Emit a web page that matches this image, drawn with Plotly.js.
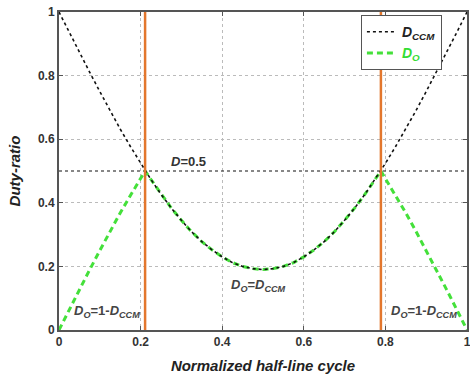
<!DOCTYPE html>
<html>
<head>
<meta charset="utf-8">
<script src="https://cdn.plot.ly/plotly-3.0.1.min.js"></script>
<style>html,body{margin:0;padding:0;background:#fff;}#chart{width:470px;height:390px;}</style>
</head>
<body>
<div id="chart"></div>
<script>
// Normalized half-line cycle positions
var cycle = [0,0.025,0.05,0.075,0.1,0.125,0.15,0.175,0.2,0.211,0.225,0.25,0.275,0.3,0.325,0.35,0.375,0.4,0.425,0.45,0.475,0.5,
             0.525,0.55,0.575,0.6,0.625,0.65,0.675,0.7,0.725,0.75,0.775,0.789,0.8,0.825,0.85,0.875,0.9,0.925,0.95,0.975,1];
// D_CCM (black dotted)
var dCCM = [1.000,0.936,0.873,0.811,0.750,0.690,0.632,0.577,0.524,0.500,0.474,0.427,0.384,0.345,0.309,0.278,0.252,0.230,0.212,0.200,0.193,0.190,
            0.193,0.200,0.212,0.230,0.252,0.278,0.309,0.345,0.384,0.427,0.474,0.500,0.524,0.577,0.632,0.690,0.750,0.811,0.873,0.936,1.000];
// D_O (green dashed)
var dO = [0.000,0.064,0.127,0.189,0.250,0.310,0.368,0.423,0.476,0.500,0.474,0.427,0.384,0.345,0.309,0.278,0.252,0.230,0.212,0.200,0.193,0.190,
          0.193,0.200,0.212,0.230,0.252,0.278,0.309,0.345,0.384,0.427,0.474,0.500,0.476,0.423,0.368,0.310,0.250,0.189,0.127,0.064,0.000];
// Boundary markers (orange vertical lines) and D=0.5 reference
var boundaries = [0.211, 0.789];
var halfLevel = 0.5;
var xRange = [0, 1];
var yRange = [0, 1];
var tickVals = [0, 0.2, 0.4, 0.6, 0.8, 1];
var tickText = ['0', '0.2', '0.4', '0.6', '0.8', '1'];

var traces = [];
traces.push({x: xRange, y: [halfLevel, halfLevel], mode: 'lines', showlegend: false, hoverinfo: 'skip',
  line: {color: '#111', width: 1.2, dash: 'dot'}});
traces.push({x: cycle, y: dO, mode: 'lines', name: '<span style="color:#33dd33"><b><i>D<sub>O</sub></i></b></span>',
  legendrank: 2, line: {color: '#44e03a', width: 3, dash: '6px,4px'}});
traces.push({x: cycle, y: dCCM, mode: 'lines', name: '<b><i>D<sub>CCM</sub></i></b>',
  legendrank: 1, line: {color: '#111', width: 1.6, dash: 'dot'}});
boundaries.forEach(function(b){
  traces.push({x: [b, b], y: yRange, mode: 'lines', showlegend: false, hoverinfo: 'skip',
    line: {color: '#e3772d', width: 2.5}});
});

var axisCommon = {
  showgrid: true, gridcolor: '#bbbbbb', griddash: 'dot', gridwidth: 1,
  showline: true, mirror: 'allticks', linecolor: '#555', linewidth: 2,
  ticks: 'inside', ticklen: 4, tickcolor: '#555', tickwidth: 1,
  zeroline: false, tickvals: tickVals, ticktext: tickText, ticklabeloverflow: 'allow',
  tickfont: {family: 'Liberation Sans, Arial, sans-serif', size: 12, color: '#333', weight: 'bold'}
};

var layout = {
  width: 470, height: 390,
  margin: {l: 59, r: 3, t: 12, b: 60},
  paper_bgcolor: '#fff', plot_bgcolor: '#fff',
  showlegend: true,
  legend: {x: 0.74, y: 0.99, xanchor: 'left', yanchor: 'top', bgcolor: '#fff', bordercolor: '#555', borderwidth: 1,
    font: {family: 'Liberation Sans, Arial, sans-serif', size: 14, color: '#222'}, tracegroupgap: 0},
  xaxis: Object.assign({}, axisCommon, {range: xRange,
    title: {text: 'Normalized half-line cycle', standoff: 12,
      font: {family: 'Liberation Sans, Arial, sans-serif', size: 15, color: '#222', weight: 'bold', style: 'italic'}}}),
  yaxis: Object.assign({}, axisCommon, {range: yRange,
    title: {text: 'Duty-ratio', standoff: 14,
      font: {family: 'Liberation Sans, Arial, sans-serif', size: 15, color: '#222', weight: 'bold', style: 'italic'}}}),
  annotations: [
    {x: 0.118, y: 0.057, xref: 'x', yref: 'y', showarrow: false, text: '<b><i>D<sub>O</sub></i>=1-<i>D<sub>CCM</sub></i></b>',
      font: {family: 'Liberation Sans, Arial, sans-serif', size: 13, color: '#444'}},
    {x: 0.895, y: 0.057, xref: 'x', yref: 'y', showarrow: false, text: '<b><i>D<sub>O</sub></i>=1-<i>D<sub>CCM</sub></i></b>',
      font: {family: 'Liberation Sans, Arial, sans-serif', size: 13, color: '#444'}},
    {x: 0.49, y: 0.14, xref: 'x', yref: 'y', showarrow: false, text: '<b><i>D<sub>O</sub></i>=<i>D<sub>CCM</sub></i></b>',
      font: {family: 'Liberation Sans, Arial, sans-serif', size: 13, color: '#444'}},
    {x: 0.317, y: 0.53, xref: 'x', yref: 'y', showarrow: false, text: '<b><i>D</i>=0.5</b>',
      font: {family: 'Liberation Sans, Arial, sans-serif', size: 13, color: '#333'}}
  ]
};

Plotly.newPlot('chart', traces, layout, {displayModeBar: false, staticPlot: true});
</script>
</body>
</html>
